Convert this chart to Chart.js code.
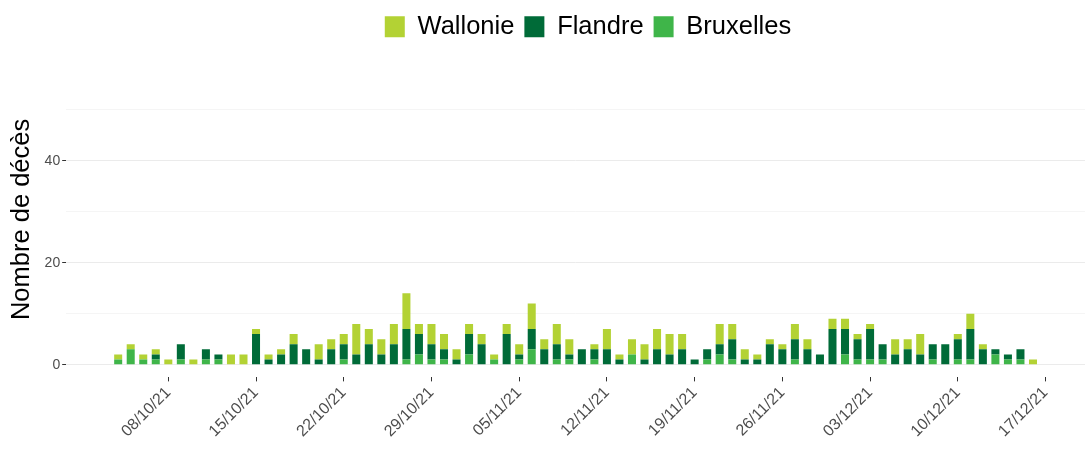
<!DOCTYPE html>
<html>
<head>
<meta charset="utf-8">
<title>Nombre de décès</title>
<script src="https://cdn.jsdelivr.net/npm/chart.js@4.4.1/dist/chart.umd.min.js"></script>
<style>
    html, body { margin: 0; padding: 0; background: #ffffff; }
    #wrap { width: 1089px; height: 450px; position: relative; }
</style>
</head>
<body>
<div id="wrap"><canvas id="deathsChart"></canvas></div>
<script>
// ============================================
// DATA
// ============================================

const dates = [
    '04/10/21', '05/10/21', '06/10/21', '07/10/21', '08/10/21', '09/10/21', '10/10/21',
    '11/10/21', '12/10/21', '13/10/21', '14/10/21', '15/10/21', '16/10/21', '17/10/21',
    '18/10/21', '19/10/21', '20/10/21', '21/10/21', '22/10/21', '23/10/21', '24/10/21',
    '25/10/21', '26/10/21', '27/10/21', '28/10/21', '29/10/21', '30/10/21', '31/10/21',
    '01/11/21', '02/11/21', '03/11/21', '04/11/21', '05/11/21', '06/11/21', '07/11/21',
    '08/11/21', '09/11/21', '10/11/21', '11/11/21', '12/11/21', '13/11/21', '14/11/21',
    '15/11/21', '16/11/21', '17/11/21', '18/11/21', '19/11/21', '20/11/21', '21/11/21',
    '22/11/21', '23/11/21', '24/11/21', '25/11/21', '26/11/21', '27/11/21', '28/11/21',
    '29/11/21', '30/11/21', '01/12/21', '02/12/21', '03/12/21', '04/12/21', '05/12/21',
    '06/12/21', '07/12/21', '08/12/21', '09/12/21', '10/12/21', '11/12/21', '12/12/21',
    '13/12/21', '14/12/21', '15/12/21', '16/12/21'
];

const wallonie = [
    1, 1, 1, 1, 1, 0, 1, 0, 0, 2, 2, 1, 1, 1,
    2, 0, 3, 2, 2, 6, 3, 3, 4, 7, 2, 4, 3, 2,
    2, 2, 1, 2, 2, 5, 2, 4, 3, 0, 1, 4, 1, 3,
    3, 4, 4, 3, 0, 0, 4, 3, 2, 1, 1, 1, 3, 2,
    0, 2, 2, 1, 1, 0, 3, 2, 4, 0, 0, 1, 3, 1,
    0, 0, 0, 1
];

const flandre = [
    0, 0, 0, 1, 0, 3, 0, 2, 1, 0, 0, 6, 1, 2,
    4, 3, 1, 3, 3, 2, 4, 2, 4, 6, 4, 3, 2, 1,
    4, 4, 0, 6, 1, 4, 3, 3, 1, 3, 2, 3, 1, 0,
    1, 3, 2, 3, 1, 2, 2, 4, 1, 1, 4, 3, 4, 3,
    2, 7, 5, 4, 6, 3, 2, 3, 2, 3, 4, 4, 6, 3,
    1, 1, 2, 0
];

const bruxelles = [
    1, 3, 1, 1, 0, 1, 0, 1, 1, 0, 0, 0, 0, 0,
    0, 0, 0, 0, 1, 0, 0, 0, 0, 1, 2, 1, 1, 0,
    2, 0, 1, 0, 1, 3, 0, 1, 1, 0, 1, 0, 0, 2,
    0, 0, 0, 0, 0, 1, 2, 1, 0, 0, 0, 0, 1, 0,
    0, 0, 2, 1, 1, 1, 0, 0, 0, 1, 0, 1, 1, 0,
    2, 1, 1, 0
];

const tickLabels = [
    '08/10/21', '15/10/21', '22/10/21', '29/10/21', '05/11/21', '12/11/21',
    '19/11/21', '26/11/21', '03/12/21', '10/12/21', '17/12/21'
];

const yTicks = [0, 10, 20, 30, 40, 50];
const yLabelled = [0, 20, 40];

const colors = {
    wallonie: '#b3d234',
    flandre: '#006b38',
    bruxelles: '#3fb549'
};

// ============================================
// HELPERS
// ============================================

// day number counted from the first date
const dayIndex = (str) => {
    const [d, m, y] = str.split('/').map(Number);
    const t = Date.UTC(2000 + y, m - 1, d);
    const [d0, m0, y0] = dates[0].split('/').map(Number);
    const t0 = Date.UTC(2000 + y0, m0 - 1, d0);
    return Math.round((t - t0) / 86400000);
};

const toPoints = (values) => values.map((v, i) => ({ x: dayIndex(dates[i]), y: v }));

const tickPositions = tickLabels.map(dayIndex);

// a little space under the legend, and the legend centred a bit to the right
const legendTweaks = {
    id: 'legendTweaks',
    beforeInit(chart) {
        const fit = chart.legend.fit;
        chart.legend.fit = function () {
            fit.bind(chart.legend)();
            this.height += 12;
        };
    },
    afterLayout(chart) {
        chart.legend.left += 42;
        chart.legend.right += 42;
    }
};

const isLabelled = (ctx) => yLabelled.includes(ctx.tick && ctx.tick.value);

// ============================================
// CHART
// ============================================

const font = "'Liberation Sans', Arial, sans-serif";

new Chart(document.getElementById('deathsChart'), {
    type: 'bar',
    data: {
        datasets: [
            { label: 'Bruxelles', data: toPoints(bruxelles), backgroundColor: colors.bruxelles },
            { label: 'Flandre', data: toPoints(flandre), backgroundColor: colors.flandre },
            { label: 'Wallonie', data: toPoints(wallonie), backgroundColor: colors.wallonie }
        ]
    },
    options: {
        responsive: true,
        maintainAspectRatio: false,
        animation: false,
        barPercentage: 0.64,
        categoryPercentage: 1,
        layout: {
            padding: { left: 7, right: 4, top: 4, bottom: 7 }
        },
        plugins: {
            legend: {
                position: 'top',
                reverse: true,
                labels: {
                    color: '#000000',
                    font: { family: font, size: 25.5 },
                    boxWidth: 20,
                    boxHeight: 21,
                    padding: 10
                }
            },
            tooltip: { enabled: false }
        },
        scales: {
            x: {
                type: 'linear',
                stacked: true,
                offset: false,
                min: -4.15,
                max: 77.15,
                afterBuildTicks(scale) {
                    scale.ticks = tickPositions.map(v => ({ value: v }));
                },
                ticks: {
                    autoSkip: false,
                    minRotation: 45,
                    maxRotation: 45,
                    color: '#4d4d4d',
                    font: { family: font, size: 16 },
                    padding: 2,
                    callback: (value) => {
                        const i = tickPositions.indexOf(value);
                        return i >= 0 ? tickLabels[i] : '';
                    }
                },
                grid: {
                    offset: false,
                    drawOnChartArea: false,
                    drawTicks: true,
                    tickLength: 4,
                    tickColor: '#333333'
                },
                border: { display: false }
            },
            y: {
                stacked: true,
                min: -2.5,
                max: 59.5,
                afterBuildTicks(scale) {
                    scale.ticks = yTicks.map(v => ({ value: v }));
                },
                title: {
                    display: true,
                    text: 'Nombre de décès',
                    color: '#000000',
                    font: { family: font, size: 25.5 },
                    padding: { top: 0, bottom: 5 }
                },
                ticks: {
                    color: '#4d4d4d',
                    font: { family: font, size: 14 },
                    padding: 2,
                    callback: (value) => yLabelled.includes(value) ? value : ''
                },
                grid: {
                    color: (ctx) => isLabelled(ctx) ? '#ebebeb' : '#f2f2f2',
                    lineWidth: (ctx) => isLabelled(ctx) ? 1 : 0.8,
                    tickLength: 4,
                    tickColor: (ctx) => isLabelled(ctx) ? '#333333' : 'rgba(0,0,0,0)'
                },
                border: { display: false }
            }
        }
    },
    plugins: [legendTweaks]
});
</script>
</body>
</html>
